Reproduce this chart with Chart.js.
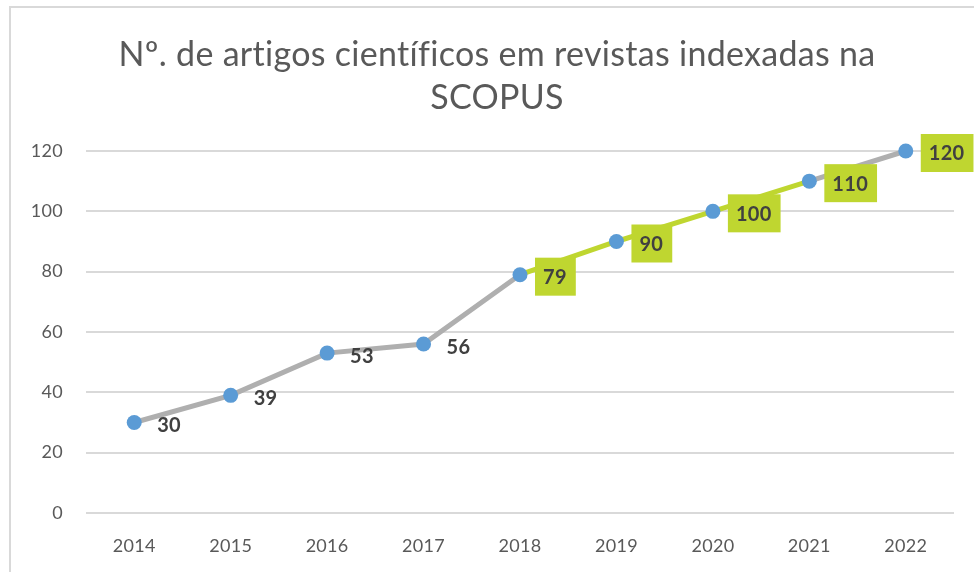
<!DOCTYPE html>
<html>
<head>
<meta charset="utf-8">
<script src="https://cdn.jsdelivr.net/npm/chart.js@4.4.0/dist/chart.umd.min.js"></script>
<style>
  html, body { margin:0; padding:0; background:#fff; }
  #wrap { position:relative; width:974px; height:572px; overflow:hidden; }
  #frame { position:absolute; left:9px; top:6px; width:1000px; height:600px; border-left:2px solid #d9d9d9; border-top:2px solid #d9d9d9; pointer-events:none; }
</style>
</head>
<body>
<div id="wrap">
  <canvas id="scopusChart" width="974" height="572"></canvas>
  <div id="frame"></div>
</div>
<script>
// dados
const years = ['2014', '2015', '2016', '2017', '2018', '2019', '2020', '2021', '2022'];
const artigos = [30, 39, 53, 56, 79, 90, 100, 110, 120];
const yTicks = [0, 20, 40, 60, 80, 100, 120];
const tituloLinhas = ['Nº. de artigos científicos em revistas indexadas na', 'SCOPUS'];

const FONT = 'Lato, Carlito, sans-serif';
const GRAY = '#afafaf';
const LIME = '#bfd630';
const firstLime = years.indexOf('2018');   // segmentos e rótulos destacados
const lastLime = years.indexOf('2021');

// espaçamento leve entre letras (evita ligaduras "ti"/"fi" do Lato)
const spacing = {
  id: 'spacing',
  beforeDraw(chart) { chart.ctx.letterSpacing = '0.3px'; }
};

// título em duas linhas, centrado na moldura do gráfico
const chartTitle = {
  id: 'chartTitle',
  afterDraw(chart) {
    const ctx = chart.ctx;
    ctx.save();
    ctx.letterSpacing = '0.3px';
    ctx.font = '400 34px ' + FONT;
    ctx.fillStyle = '#595959';
    ctx.textAlign = 'center';
    ctx.textBaseline = 'middle';
    tituloLinhas.forEach((t, i) => ctx.fillText(t, 497, 55 + i * 43));
    ctx.restore();
  }
};

// rótulos de dados (à direita de cada ponto)
const valueLabels = {
  id: 'valueLabels',
  afterDatasetsDraw(chart) {
    const ctx = chart.ctx;
    const meta = chart.getDatasetMeta(0);
    ctx.save();
    ctx.font = 'bold 20px ' + FONT;
    ctx.textBaseline = 'middle';
    ctx.textAlign = 'left';
    meta.data.forEach((pt, i) => {
      const txt = String(artigos[i]);
      const w = ctx.measureText(txt).width;
      const x = pt.x + 23;
      const y = pt.y + 2;
      if (i >= firstLime) {
        ctx.fillStyle = LIME;
        ctx.fillRect(pt.x + 15, y - 19, w + 17, 38);
      }
      ctx.fillStyle = '#404040';
      ctx.fillText(txt, x, y + 1);
    });
    ctx.restore();
  }
};

new Chart(document.getElementById('scopusChart'), {
  type: 'line',
  data: {
    labels: years,
    datasets: [{
      data: artigos,
      borderColor: GRAY,
      borderWidth: 5,
      segment: {
        borderColor: c => (c.p0DataIndex >= firstLime && c.p0DataIndex < lastLime) ? LIME : GRAY
      },
      pointRadius: 7.5,
      pointBackgroundColor: '#5b9bd5',
      pointBorderColor: '#5b9bd5',
      pointBorderWidth: 0,
      tension: 0,
      clip: false
    }]
  },
  options: {
    responsive: false,
    animation: false,
    layout: { padding: { left: 0, right: 20, top: 151, bottom: 0 } },
    plugins: {
      legend: { display: false },
      tooltip: { enabled: false },
      title: { display: false }
    },
    scales: {
      x: {
        offset: true,
        grid: { display: false, drawTicks: false },
        border: { display: false },
        ticks: { color: '#595959', font: { family: FONT, size: 18 }, padding: 22, maxRotation: 0 },
        afterFit: s => { s.height = 59; }
      },
      y: {
        min: 0,
        max: 120,
        afterBuildTicks: s => { s.ticks = yTicks.map(v => ({ value: v })); },
        grid: { color: '#d9d9d9', lineWidth: 2, drawTicks: false },
        border: { display: false },
        ticks: { color: '#595959', font: { family: FONT, size: 18 }, padding: 23 },
        afterFit: s => { s.width = 86; }
      }
    }
  },
  plugins: [spacing, valueLabels, chartTitle]
});
</script>
</body>
</html>
